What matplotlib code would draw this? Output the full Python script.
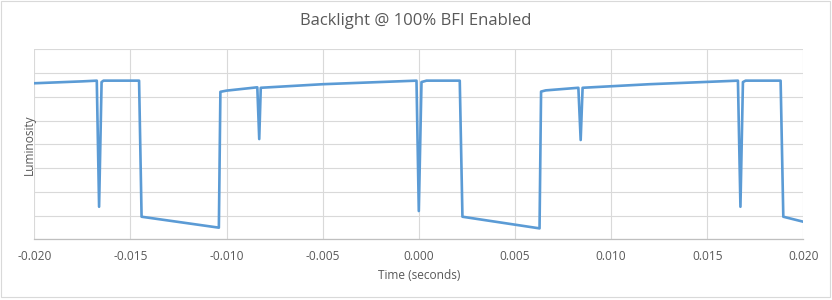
import matplotlib
matplotlib.use("Agg")
import matplotlib.pyplot as plt
from matplotlib.patches import Rectangle

plt.rcParams['font.family'] = ['Open Sans', 'DejaVu Sans']

title = "Backlight @ 100% BFI Enabled"
x_label = "Time (seconds)"
y_label = "Luminosity"

time_s = [-0.0200, -0.0175, -0.01675, -0.01663, -0.01650, -0.0164,
          -0.01455, -0.01442, -0.01040, -0.01032, -0.0100, -0.0084,
          -0.00830, -0.00822, -0.0050, -0.00012, 0.0000, 0.00014,
          0.0004, 0.00213, 0.00227, 0.00628, 0.00636, 0.0066, 0.0083,
          0.00842, 0.00852, 0.0120, 0.0166, 0.01673, 0.01686, 0.0170,
          0.01882, 0.01896, 0.0200]
luminosity = [6.57, 6.65, 6.68, 1.37, 6.62, 6.68,
              6.68, 0.95, 0.49, 6.21, 6.26, 6.40,
              4.22, 6.38, 6.53, 6.68, 1.19, 6.62,
              6.68, 6.68, 0.95, 0.46, 6.22, 6.27, 6.38,
              4.18, 6.38, 6.53, 6.68, 1.37, 6.62, 6.68,
              6.68, 0.95, 0.74]

x_ticks = [-0.020, -0.015, -0.010, -0.005, 0.000, 0.005, 0.010, 0.015, 0.020]
x_tick_labels = ["-0.020", "-0.015", "-0.010", "-0.005", "0.000",
                 "0.005", "0.010", "0.015", "0.020"]

W, H = 832, 300
fig = plt.figure(figsize=(W / 100, H / 100), dpi=100)
ax = fig.add_axes([34.3 / W, 1 - 239.3 / H, (803.3 - 34.3) / W, (239.3 - 49.3) / H])

ax.plot(time_s, luminosity, color='#5B9BD5', lw=1.9, solid_joinstyle='round')

ax.set_xlim(-0.020, 0.020)
ax.set_ylim(0, 8)
ax.set_yticks(range(0, 9))
ax.set_xticks(x_ticks)
ax.set_xticklabels(x_tick_labels)
ax.tick_params(axis='y', length=0, labelleft=False)
ax.tick_params(axis='x', length=0, pad=8, labelsize=8.6, labelcolor='#595959')
ax.grid(True, color='#D9D9D9', lw=0.8)
ax.set_axisbelow(True)
for s in ['top', 'right', 'left']:
    ax.spines[s].set_visible(False)
ax.spines['bottom'].set_color('#BFBFBF')
ax.spines['bottom'].set_linewidth(0.9)

ax.set_xlabel(x_label, fontsize=8.6, color='#595959', labelpad=4)
ax.set_ylabel(y_label, fontsize=8.6, color='#595959', labelpad=-1)

fig.text(416 / W, 1 - 21 / H, title, ha='center', va='center',
         fontsize=12.0, color='#595959')

fig.patches.append(Rectangle((0.5 / W, 1 - 296.5 / H), 829 / W, 296 / H,
                             transform=fig.transFigure, fill=False,
                             edgecolor='#D9D9D9', lw=0.8))

fig.savefig('out.png', dpi=100)
